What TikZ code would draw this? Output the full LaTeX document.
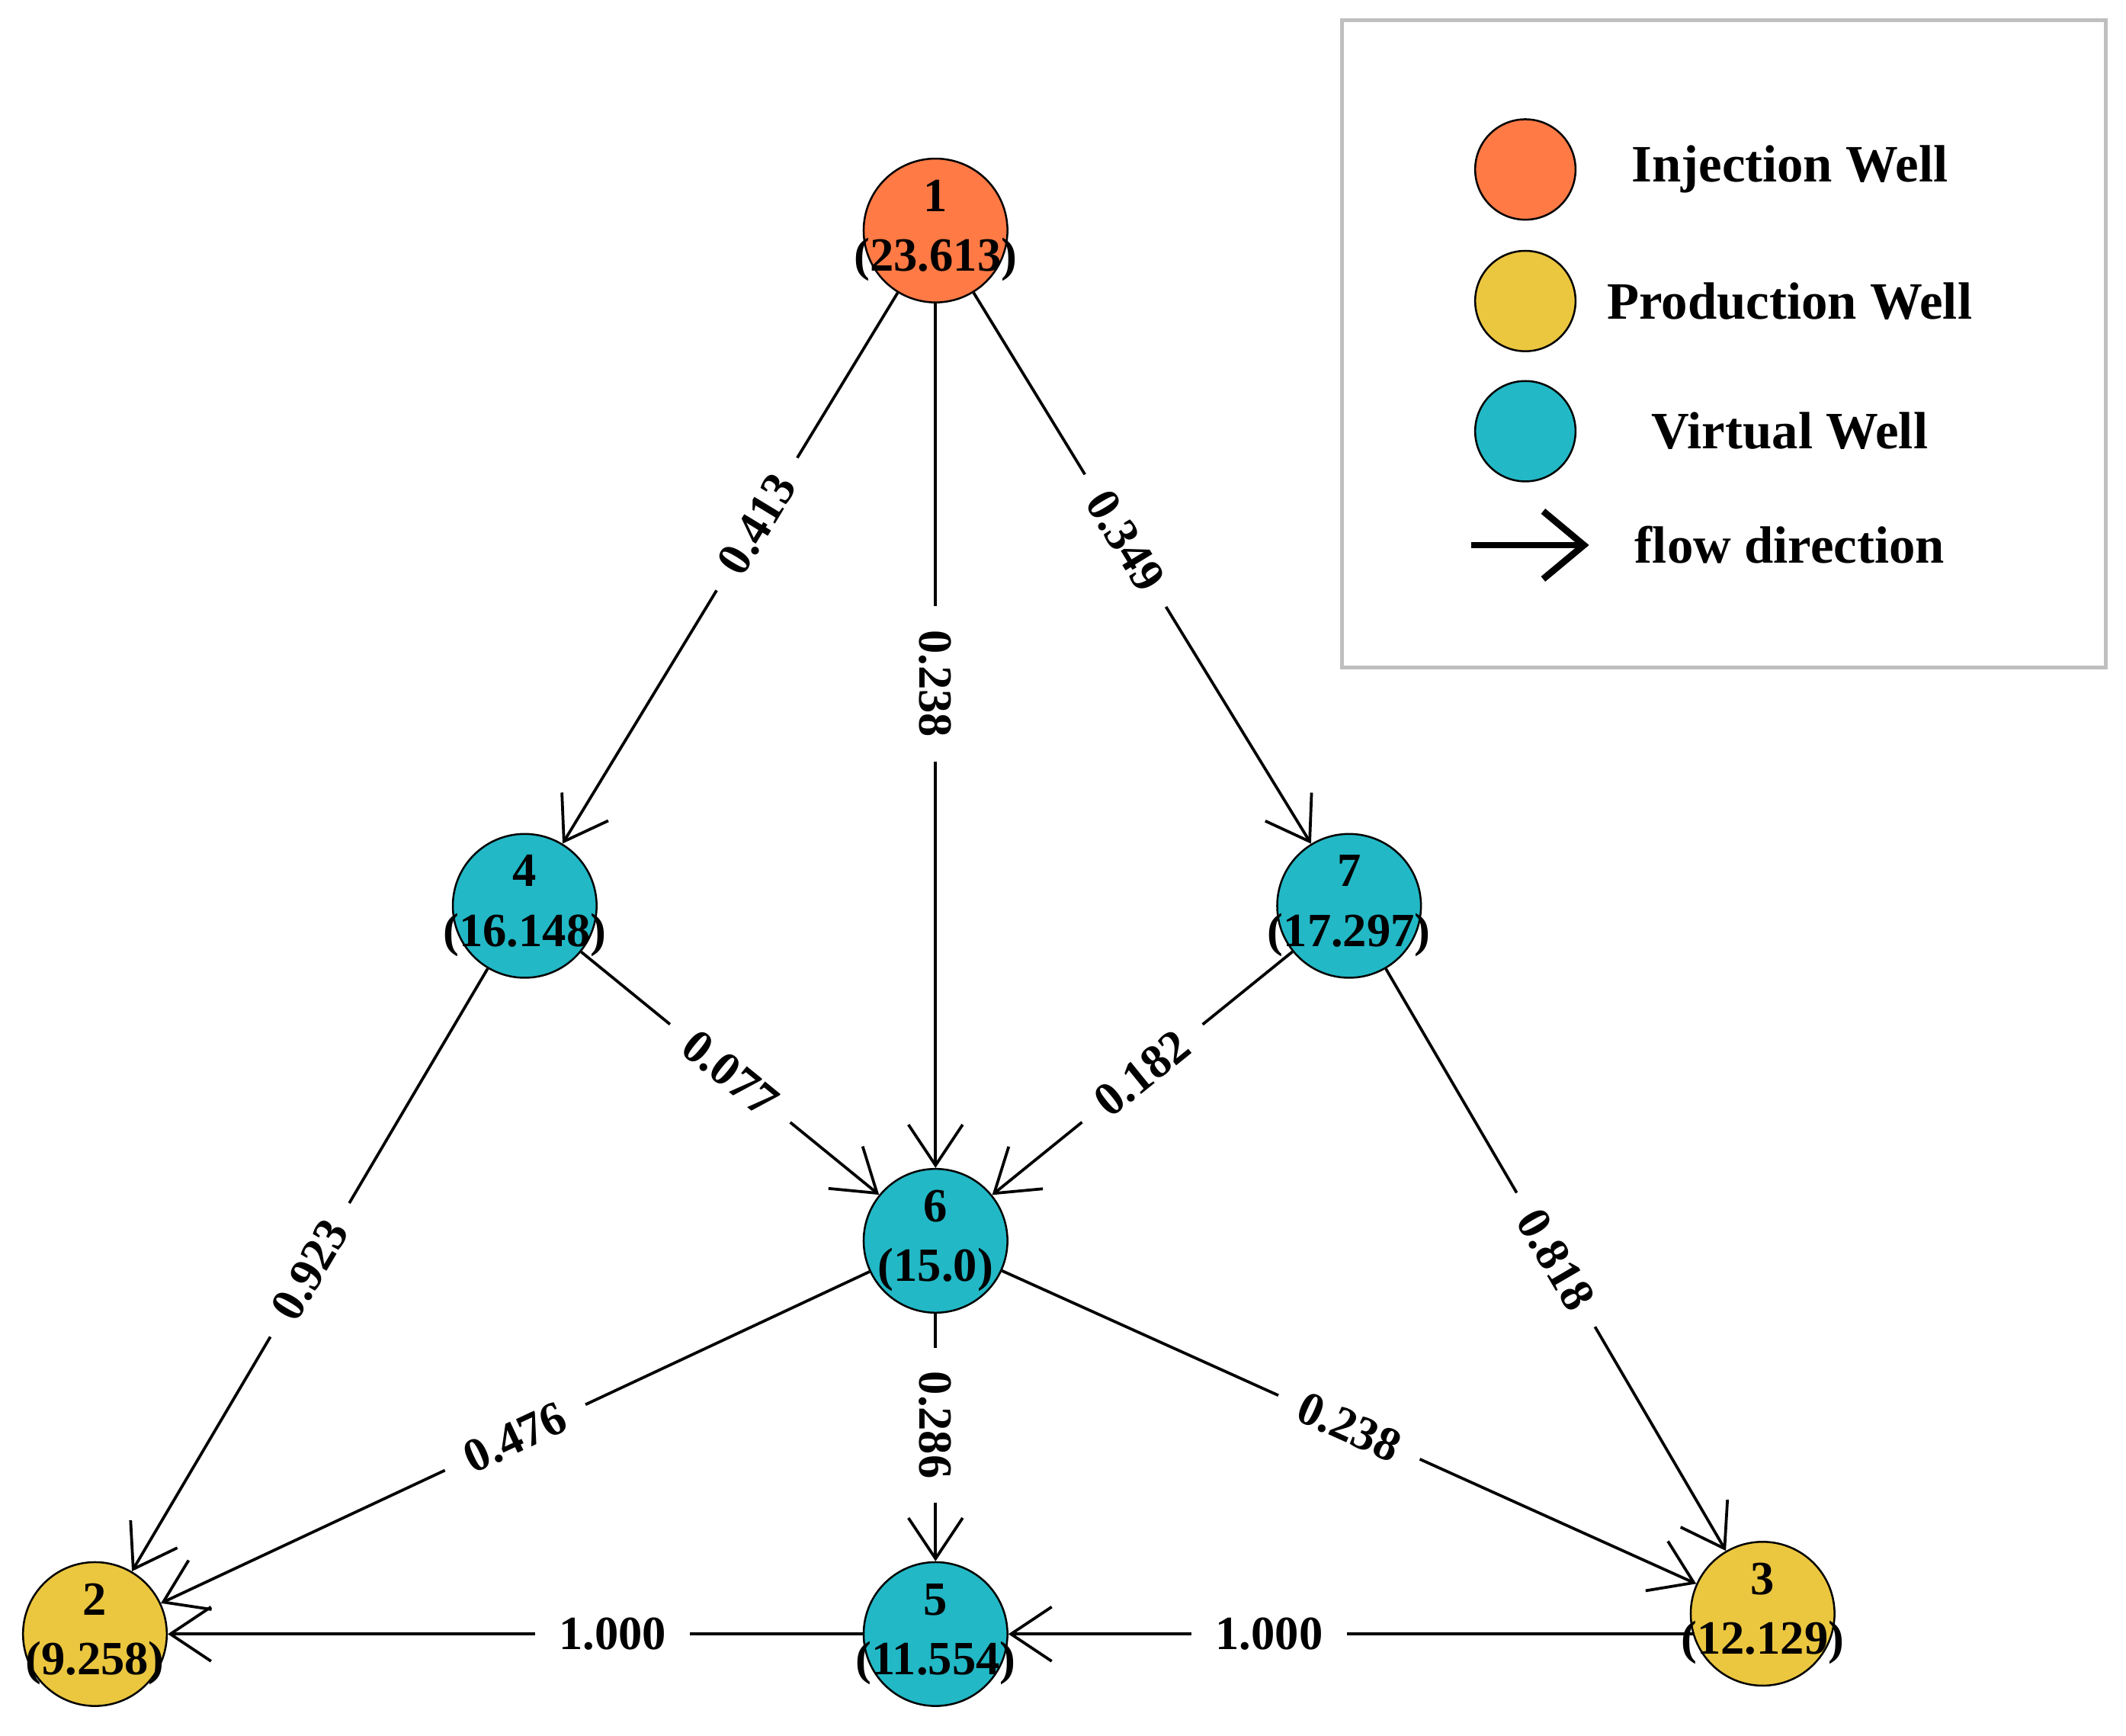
\documentclass[tikz,border=0pt]{standalone}
\usepackage{fontspec}
\setmainfont{Liberation Serif}
\usetikzlibrary{arrows.meta}
\definecolor{inj}{HTML}{FF7A45}
\definecolor{prod}{HTML}{EBC63F}
\definecolor{virt}{HTML}{22B8C6}
\begin{document}
\begin{tikzpicture}[x=0.01cm,y=-0.01cm,
  well/.style={circle,draw=black,line width=0.4pt,minimum size=1.06cm,inner sep=0pt},
  wl/.style={font=\fontsize{10}{12.5}\selectfont\bfseries,align=center},
  e/.style={line width=0.6pt,-{Straight Barb[length=3mm,width=4mm]}},
  lab/.style={fill=white,inner xsep=5pt,inner ysep=2pt,font=\fontsize{10}{11}\selectfont\bfseries,sloped}]
\useasboundingbox (0,0) rectangle (1568,1280);
\node[well,fill=inj]  (n1) at (690,170) {};
\node[well,fill=virt] (n4) at (387,668) {};
\node[well,fill=virt] (n7) at (995,668) {};
\node[well,fill=virt] (n6) at (690,915) {};
\node[well,fill=prod] (n2) at (70,1205) {};
\node[well,fill=virt] (n5) at (690,1205) {};
\node[well,fill=prod] (n3) at (1300,1190) {};
\coordinate (n3w) at (1250,1205);
\foreach \n/\t in {n1/{1\\(23.613)},n4/{4\\(16.148)},n7/{7\\(17.297)},n6/{6\\(15.0)},n2/{2\\(9.258)},n5/{5\\(11.554)},n3/{3\\(12.129)}}
  \node[wl] (t\n) at (\n) {\t};
\draw[e] (n1) -- node[lab,pos=0.42] {0.413} (n4);
\draw[e] (n1) -- node[lab,pos=0.44] {0.238} (n6);
\draw[e] (n1) -- node[lab,pos=0.45] {0.349} (n7);
\draw[e] (n4) -- node[lab] {0.077} (n6);
\draw[e] (n4) -- node[lab] {0.923} (n2);
\draw[e] (n7) -- node[lab] {0.182} (n6);
\draw[e] (n7) -- node[lab] {0.818} (n3);
\draw[e] (n6) -- node[lab] {0.476} (n2);
\draw[e] (n6) -- node[lab,pos=0.45] {0.286} (n5);
\draw[e] (n6) -- node[lab] {0.238} (n3);
\draw[e] (n5) -- node[lab,pos=0.36] {1.000} (n2);
\draw[e] (n3w) -- node[lab,pos=0.62] {1.000} (n5);
% legend
\draw[black!25,line width=0.8pt] (990,15) rectangle (1553,492);
\node[well,minimum size=0.74cm,fill=inj]  (l1) at (1125,125) {};
\node[well,minimum size=0.74cm,fill=prod] (l2) at (1125,222) {};
\node[well,minimum size=0.74cm,fill=virt] (l3) at (1125,318) {};
\coordinate (a1) at (1085,402);
\coordinate (a2) at (1172,402);
\draw[line width=1.4pt,-{Straight Barb[length=3mm,width=5mm]}] (a1) -- (a2);
\tikzset{lt/.style={font=\fontsize{11}{13}\selectfont\bfseries}}
\node[lt] (t1) at (1320,125) {Injection Well};
\node[lt] (t2) at (1320,222) {Production Well};
\node[lt] (t3) at (1320,318) {Virtual Well};
\node[lt] (t4) at (1320,402) {flow direction};
\end{tikzpicture}
\end{document}
